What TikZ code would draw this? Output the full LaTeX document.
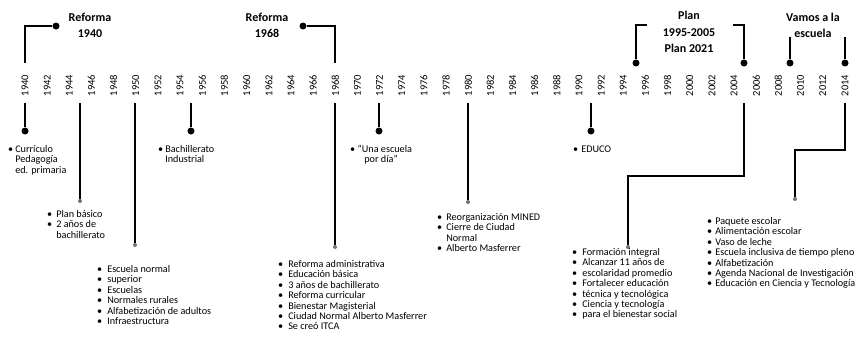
\documentclass[tikz,border=0pt]{standalone}
\usepackage{fontspec}
\setmainfont{Carlito}
\begin{document}
\begin{tikzpicture}[x=1pt,y=-1pt,
  conn/.style={line width=1.8pt, black},
  bigdot/.style={circle, fill=black, inner sep=0pt, minimum size=7pt},
  smalldot/.style={circle, fill=black!55, inner sep=0pt, minimum size=4pt},
  yr/.style={rotate=90, font=\fontsize{10.5}{10.5}\selectfont, inner sep=0pt},
  ttl/.style={align=center, font=\bfseries\fontsize{12}{15.5}\selectfont, inner sep=0pt},
  lst/.style={anchor=north west, inner sep=0pt, font=\fontsize{10.2}{10.4}\selectfont}]
\useasboundingbox (0,0) rectangle (862,351);
% year labels
\foreach \y [count=\i from 0] in {1940,1942,...,2014}
  \node[yr] (y\y) at ({25+\i*22.16}, 85.5) {\y};
% titles
\node[ttl] (t40) at (90,25.5) {Reforma\\1940};
\node[ttl] (t68) at (267,25.5) {Reforma\\1968};
\node[ttl, font=\bfseries\fontsize{12}{16.5}\selectfont] (tplan) at (689,32) {Plan\\1995-2005\\Plan 2021};
\node[ttl] (tvamos) at (813,25.5) {Vamos a la\\escuela};
% top connectors
\node[bigdot] (d40) at (56,26) {};
\coordinate (e40) at (25,63);
\draw[conn] (d40) -- (25,26) -- (e40);
\node[bigdot] (d68) at (303,26) {};
\coordinate (e68) at (335,63);
\draw[conn] (d68) -- (335,26) -- (e68);
\node[bigdot] (d95) at (636,63) {};
\coordinate (e95) at (647,25);
\draw[conn] (d95) -- (636,25) -- (e95);
\node[bigdot] (d05) at (744,63) {};
\coordinate (e05) at (733,25);
\draw[conn] (d05) -- (744,25) -- (e05);
\node[bigdot] (d09) at (790,63) {};
\coordinate (e09) at (790,37);
\draw[conn] (d09) -- (e09);
\node[bigdot] (d14) at (845,63) {};
\coordinate (e14) at (845,37);
\draw[conn] (d14) -- (e14);
% bottom connectors
\coordinate (b40) at (25,103);
\node[bigdot] (p40) at (25,131) {};
\draw[conn] (b40) -- (p40);
\coordinate (b45) at (80,103);
\node[smalldot] (p45) at (80,201) {};
\draw[conn] (b45) -- (p45);
\coordinate (b50) at (135,103);
\node[smalldot] (p50) at (135,245) {};
\draw[conn] (b50) -- (p50);
\coordinate (b55) at (191,103);
\node[bigdot] (p55) at (191,131) {};
\draw[conn] (b55) -- (p55);
\coordinate (b68) at (335,103);
\node[smalldot] (p68) at (335,247) {};
\draw[conn] (b68) -- (p68);
\coordinate (b72) at (379,103);
\node[bigdot] (p72) at (379,131) {};
\draw[conn] (b72) -- (p72);
\coordinate (b80) at (468,103);
\node[smalldot] (p80) at (468,202) {};
\draw[conn] (b80) -- (p80);
\coordinate (b91) at (591,103);
\node[bigdot] (p91) at (591,131) {};
\draw[conn] (b91) -- (p91);
\coordinate (b05) at (744,103);
\node[smalldot] (p05) at (628,247) {};
\draw[conn] (b05) -- (744,176) -- (628,176) -- (p05);
\coordinate (b14) at (845,103);
\node[smalldot] (p14) at (795,199) {};
\draw[conn] (b14) -- (845,150) -- (795,150) -- (p14);
% lists
\node[lst] (l40) at (8,145) {\begin{tabular}{@{}l@{\hspace{2pt}}l@{}}•&Currículo\\&Pedagogía\\&ed. primaria\end{tabular}};
\node[lst] (l45) at (47,210) {\begin{tabular}{@{}l@{\hspace{4pt}}l@{}}•&Plan básico\\•&2 años de\\&bachillerato\end{tabular}};
\node[lst] (l50) at (97,265) {\begin{tabular}{@{}l@{\hspace{5pt}}l@{}}•&Escuela normal\\•&superior\\•&Escuelas\\•&Normales rurales\\•&Alfabetización de adultos\\•&Infraestructura\end{tabular}};
\node[lst] (l55) at (158,145) {\begin{tabular}{@{}l@{\hspace{2pt}}l@{}}•&Bachillerato\\&Industrial\end{tabular}};
\node[lst] (l68) at (278,260) {\begin{tabular}{@{}l@{\hspace{5pt}}l@{}}•&Reforma administrativa\\•&Educación básica\\•&3 años de bachillerato\\•&Reforma curricular\\•&Bienestar Magisterial\\•&Ciudad Normal Alberto Masferrer\\•&Se creó ITCA\end{tabular}};
\node[lst, align=center] (l72) at (350,145) {• “Una escuela\\por día”};
\node[lst] (l80) at (437,213) {\begin{tabular}{@{}l@{\hspace{4pt}}l@{}}•&Reorganización MINED\\•&Cierre de Ciudad\\&Normal\\•&Alberto Masferrer\end{tabular}};
\node[lst] (l91) at (573,145) {\begin{tabular}{@{}l@{\hspace{3pt}}l@{}}•&EDUCO\end{tabular}};
\node[lst] (l05) at (572,248) {\begin{tabular}{@{}l@{\hspace{5pt}}l@{}}•&Formación integral\\•&Alcanzar 11 años de\\•&escolaridad promedio\\•&Fortalecer educación\\•&técnica y tecnológica\\•&Ciencia y tecnología\\•&para el bienestar social\end{tabular}};
\node[lst] (l14) at (707,217) {\begin{tabular}{@{}l@{\hspace{3pt}}l@{}}•&Paquete escolar\\•&Alimentación escolar\\•&Vaso de leche\\•&Escuela inclusiva de tiempo pleno\\•&Alfabetización\\•&Agenda Nacional de Investigación\\•&Educación en Ciencia y Tecnología\end{tabular}};
\end{tikzpicture}
\end{document}
